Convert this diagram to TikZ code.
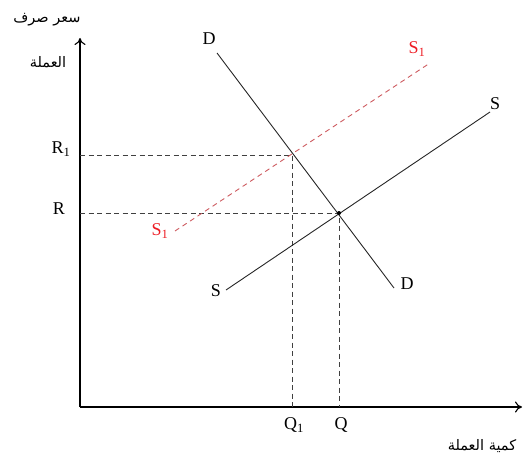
\documentclass[tikz,border=0pt]{standalone}
\usepackage{fontspec}
\setmainfont{Liberation Serif}
\newfontfamily\arabicfont[Script=Arabic]{DejaVu Sans}
\TeXXeTstate=1
\usetikzlibrary{arrows.meta}
\definecolor{sonecol}{RGB}{205,90,95}
\definecolor{sonelab}{RGB}{237,28,36}
\begin{document}
\begin{tikzpicture}[x=1pt,y=-1pt,
  axis/.style={line width=1.1pt,-{To[length=7pt,width=11pt]}},
  curve/.style={line width=0.9pt,black!85},
  guide/.style={line width=0.8pt,dash pattern=on 5pt off 3.5pt,black!75},
  shifted/.style={line width=0.9pt,sonecol,dash pattern=on 5pt off 4pt},
  lab/.style={inner sep=0pt,font=\fontsize{18}{20}\selectfont},
  arlab/.style={inner sep=0pt,font=\arabicfont\fontsize{14.5}{16}\selectfont}]
\useasboundingbox (0,0) rectangle (524,460);
% axes
\coordinate (O) at (80,407);
\coordinate (Ytop) at (80,38);
\coordinate (Xend) at (522,407);
\draw[axis] (O) -- (Ytop);
\draw[axis] (O) -- (Xend);
% points
\coordinate (D1) at (217,53);
\coordinate (D2) at (394,288);
\coordinate (S0a) at (226,290);
\coordinate (S0b) at (490,112);
\coordinate (S1a) at (175,231);
\coordinate (S1b) at (430,63);
\coordinate (E1) at (292,155);
\coordinate (E0) at (339,213);
\coordinate (R1y) at (80,155);
\coordinate (Ry) at (80,213);
\coordinate (Q1x) at (292,407);
\coordinate (Qx) at (339,407);
% guides
\draw[guide] (R1y) -- (E1) -- (Q1x);
\draw[guide] (Ry) -- (E0) -- (Qx);
% curves
\draw[shifted] (S1a) -- (S1b);
\draw[curve] (D1) -- (D2);
\draw[curve] (S0a) -- (S0b);
\fill (E0) circle (2pt);
% labels
\node[lab] (lD1) at (209,39) {D};
\node[lab] (lD2) at (407,284) {D};
\node[lab] (lS0a) at (216,291) {S};
\node[lab] (lS0b) at (495,104) {S};
\node[lab,text=sonelab] (lS1a) at (160,231) {S\textsubscript{1}};
\node[lab,text=sonelab] (lS1b) at (417,49) {S\textsubscript{1}};
\node[lab] (lR1) at (61,149) {R\textsubscript{1}};
\node[lab] (lR) at (59,209) {R};
\node[lab] (lQ1) at (294,425) {Q\textsubscript{1}};
\node[lab] (lQ) at (341,425) {Q};
\node[arlab] (ay1) at (47,20) {\beginR سعر صرف\endR};
\node[arlab] (ay2) at (48,62) {\beginR العملة\endR};
\node[arlab] (ax) at (482,446) {\beginR كمية العملة\endR};
\end{tikzpicture}
\end{document}
